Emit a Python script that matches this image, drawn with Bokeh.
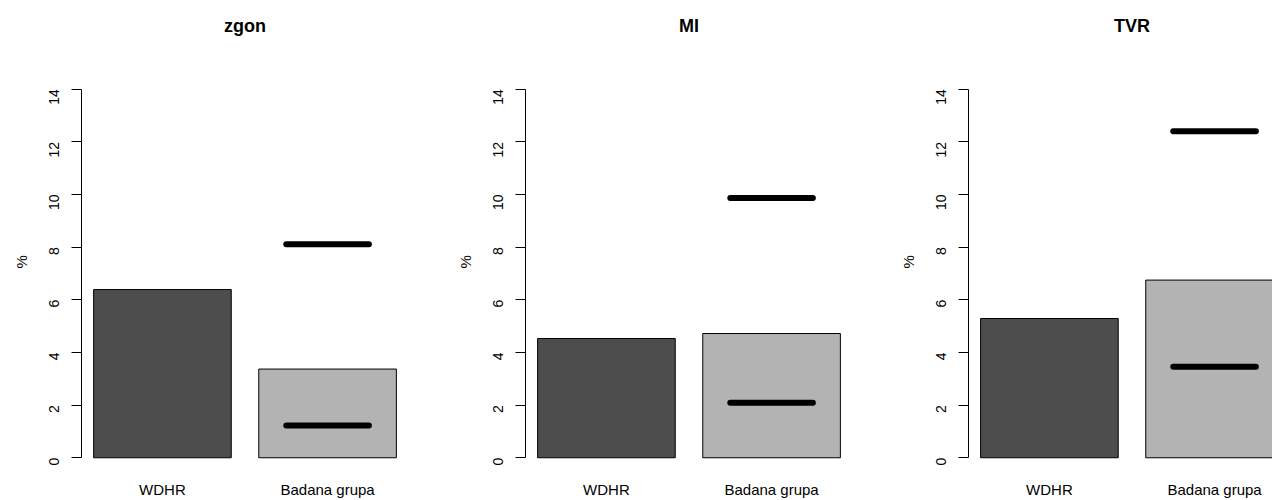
import math
from bokeh.plotting import figure
from bokeh.layouts import row
from bokeh.models import Range1d, FixedTicker, LinearAxis
from bokeh.embed import file_html
from bokeh.resources import INLINE

panels = ["zgon", "MI", "TVR"]
categories = ["WDHR", "Badana grupa"]
wdhr = [6.39, 4.53, 5.29]
badana = [3.37, 4.72, 6.75]
ci_low = [1.23, 2.09, 3.46]
ci_high = [8.11, 9.87, 12.40]
y_ticks = [0, 2, 4, 6, 8, 10, 12, 14]
y_label = "%"

FONT = "Liberation Sans"
bar_x = [0.7, 1.9]
bar_colors = ["#4D4D4D", "#B3B3B3"]

widths = [444, 443, 385]
x_ends = [2.488, 2.488, 2.321]
right_borders = [36, 35, 0]
TITLE_X = 1.3     # centre of the plotting region (data units)
YLAB_Y = 7.7      # vertical position of the "%" label (data units)


def text_axis(ticks, labels, side_font_size, bold=False):
    ax = LinearAxis(ticker=FixedTicker(ticks=ticks))
    ov = {}
    for t, s in zip(ticks, labels):
        ov[t] = s
        ov[str(t)] = s
    ax.major_label_overrides = ov
    ax.axis_line_color = None
    ax.major_tick_line_color = None
    ax.minor_tick_line_color = None
    ax.major_tick_out = 0
    ax.major_tick_in = 0
    ax.major_label_text_font = FONT
    ax.major_label_text_font_size = side_font_size
    ax.major_label_text_color = "black"
    if bold:
        ax.major_label_text_font_style = "bold"
    return ax


figs = []
for i, name in enumerate(panels):
    p = figure(width=widths[i], height=500, output_backend="svg", toolbar_location=None,
               x_range=Range1d(0.112, x_ends[i]), y_range=Range1d(-0.56, 14.56),
               x_axis_location=None, y_axis_location="left",
               min_border_left=81, min_border_right=right_borders[i],
               min_border_top=74, min_border_bottom=26)
    p.outline_line_color = None
    p.grid.visible = False
    p.background_fill_color = "white"
    p.border_fill_color = "white"

    ax = p.yaxis[0]
    ax.ticker = FixedTicker(ticks=y_ticks)
    ax.bounds = (0, 14)
    ax.axis_line_color = "black"
    ax.axis_line_width = 1
    ax.major_tick_line_color = "black"
    ax.major_tick_out = 10
    ax.major_tick_in = 0
    ax.minor_tick_line_color = None
    ax.major_label_orientation = math.pi / 2
    ax.major_label_standoff = 17
    ax.major_label_text_font = FONT
    ax.major_label_text_font_size = "14px"
    ax.major_label_text_color = "black"

    # y title ("%") as an outer left axis label
    yl = text_axis([YLAB_Y], [y_label], "15px")
    yl.major_label_orientation = math.pi / 2
    yl.major_label_standoff = 20
    p.add_layout(yl, "left")

    # panel title as an above-axis label
    tl = text_axis([TITLE_X], [name], "18px", bold=True)
    tl.major_label_standoff = 39
    p.add_layout(tl, "above")

    # category names
    xax = text_axis(bar_x, categories, "15px")
    xax.major_label_standoff = 8
    p.add_layout(xax, "below")

    vals = [wdhr[i], badana[i]]
    p.vbar(x=bar_x, top=vals, bottom=0, width=1.0, fill_color=bar_colors,
           line_color="black", line_width=1)
    p.segment(x0=[bar_x[1] - 0.3, bar_x[1] - 0.3], x1=[bar_x[1] + 0.3, bar_x[1] + 0.3],
              y0=[ci_low[i], ci_high[i]], y1=[ci_low[i], ci_high[i]],
              line_color="black", line_width=6, line_cap="round")
    figs.append(p)

layout = row(*figs, spacing=0)
open("out.html", "w").write(file_html(layout, INLINE))
